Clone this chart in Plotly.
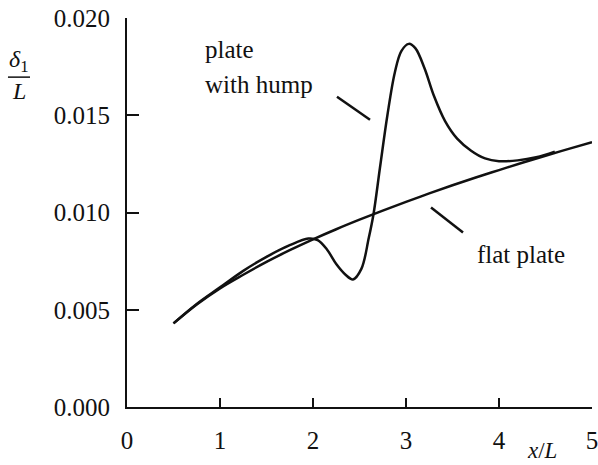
import plotly.graph_objects as go

# Displacement thickness along a flat plate and along a plate with a hump
x_flat = [0.5, 0.75, 1.0, 1.25, 1.5, 1.75, 2.0, 2.25, 2.5, 2.75, 3.0, 3.25, 3.5, 3.75, 4.0, 4.25, 4.5, 4.75, 5.0]
delta_flat = [0.0043, 0.00527, 0.0061, 0.0068, 0.00746, 0.00806, 0.00862, 0.00914, 0.00963, 0.0101, 0.01055,
              0.01098, 0.0114, 0.0118, 0.01218, 0.01256, 0.01292, 0.01327, 0.01362]

x_hump = [0.5, 0.75, 1.0, 1.25, 1.5, 1.75, 1.95, 2.05, 2.15, 2.25, 2.35, 2.43, 2.52, 2.6, 2.65, 2.72,
          2.8, 2.88, 2.95, 3.03, 3.1, 3.2, 3.3, 3.42, 3.55, 3.7, 3.85, 4.0, 4.2, 4.4, 4.6]
delta_hump = [0.0043, 0.0053, 0.00615, 0.0070, 0.00772, 0.00832, 0.00866, 0.00858, 0.0081, 0.00735, 0.0068, 0.00656,
              0.0071, 0.0087, 0.0099, 0.0123, 0.0150, 0.0172, 0.0183, 0.01867, 0.01845, 0.0174, 0.0160,
              0.0147, 0.0138, 0.01318, 0.01278, 0.01264, 0.01268, 0.01284, 0.01313]

x_ticks = [0, 1, 2, 3, 4, 5]
y_ticks = [0.0, 0.005, 0.010, 0.015, 0.020]

FONT = "Liberation Serif"
INK = "#111111"


def note(text, x, y, size=25, ref="data"):
    fig.add_annotation(x=x, y=y, text=text, showarrow=False,
                       xref="x" if ref == "data" else "paper", yref="y" if ref == "data" else "paper",
                       xanchor="left" if ref == "data" else "center", yanchor="middle",
                       font=dict(family=FONT, size=size, color=INK))


fig = go.Figure()
fig.add_trace(go.Scatter(x=x_flat, y=delta_flat, mode="lines",
                         line=dict(color=INK, width=2.5, shape="spline"), showlegend=False))
fig.add_trace(go.Scatter(x=x_hump, y=delta_hump, mode="lines",
                         line=dict(color=INK, width=2.5, shape="spline", smoothing=1.0), showlegend=False))

# leader lines for the curve labels
fig.add_shape(type="line", x0=2.258, y0=0.01595, x1=2.613, y1=0.01477, line=dict(color=INK, width=2.5))
fig.add_shape(type="line", x0=3.269, y0=0.01026, x1=3.613, y1=0.00897, line=dict(color=INK, width=2.5))

note("plate", 0.817, 0.0184)
note("with hump", 0.817, 0.01656)
note("flat plate", 3.74, 0.00785)

# y-axis title as a fraction delta_1 / L
note("<i>δ</i><sub>1</sub>", -0.232, 0.889, size=24, ref="paper")
fig.add_shape(type="line", xref="paper", yref="paper", x0=-0.256, x1=-0.2086, y0=0.848, y1=0.848,
              line=dict(color=INK, width=1.5))
note("<i>L</i>", -0.233, 0.812, size=24, ref="paper")

# x-axis title
note("<i>x</i>/<i>L</i>", 0.893, -0.113, size=23, ref="paper")

fig.update_xaxes(range=[0, 5], tickvals=x_ticks, ticktext=[str(v) for v in x_ticks],
                 showline=True, linecolor=INK, linewidth=2, ticks="inside", ticklen=9, tickwidth=2,
                 tickcolor=INK, showgrid=False, zeroline=False, ticklabelstandoff=10, automargin=False,
                 ticklabeloverflow="allow", tickfont=dict(family=FONT, size=25, color=INK))
fig.update_yaxes(range=[0, 0.02], tickvals=y_ticks, ticktext=[f"{v:.3f}" for v in y_ticks],
                 showline=True, linecolor=INK, linewidth=2, ticks="inside", ticklen=12, tickwidth=2,
                 tickcolor=INK, showgrid=False, zeroline=False, ticklabelstandoff=10, automargin=False,
                 ticklabeloverflow="allow", tickfont=dict(family=FONT, size=25, color=INK))

fig.update_layout(width=598, height=465, margin=dict(l=127, r=6, t=18, b=58),
                  plot_bgcolor="white", paper_bgcolor="white")

fig.write_html("out.html")
